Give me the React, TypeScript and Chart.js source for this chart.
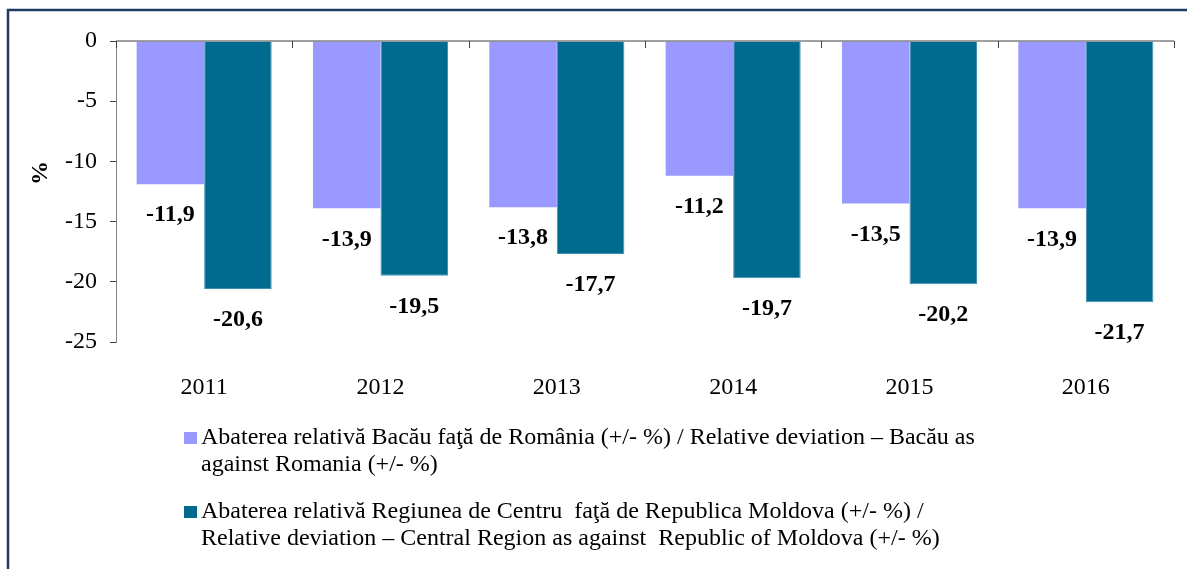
import React, { useEffect, useRef } from 'react';
import { Chart, registerables } from 'chart.js';

Chart.register(...registerables);

const categories = ['2011', '2012', '2013', '2014', '2015', '2016'];
const bacauVsRomania = [-11.9, -13.9, -13.8, -11.2, -13.5, -13.9];
const centruVsMoldova = [-20.6, -19.5, -17.7, -19.7, -20.2, -21.7];
const yTickValues = [0, -5, -10, -15, -20, -25];
const yAxisTitle = '%';
const seriesLabels = [
  [
    'Abaterea relativă Bacău faţă de România (+/- %) / Relative deviation – Bacău as',
    'against Romania (+/- %)',
  ],
  [
    'Abaterea relativă Regiunea de Centru  faţă de Republica Moldova (+/- %) /',
    'Relative deviation – Central Region as against  Republic of Moldova (+/- %)',
  ],
];
const seriesColors = ['#9999FF', '#006A8F'];

const FONT = '"Liberation Serif", "Times New Roman", serif';
const FS = 24;

const framePlugin = {
  id: 'frame',
  beforeDraw(chart: any) {
    const ctx = chart.ctx;
    ctx.save();
    ctx.fillStyle = '#ffffff';
    ctx.fillRect(0, 0, chart.width, chart.height);
    ctx.strokeStyle = '#1F3A63';
    ctx.lineWidth = 2.5;
    ctx.beginPath();
    ctx.moveTo(8, chart.height + 5);
    ctx.lineTo(8, 10);
    ctx.lineTo(chart.width + 5, 10);
    ctx.stroke();
    ctx.restore();
  },
};

const axisTitlePlugin = {
  id: 'yTitle',
  afterDraw(chart: any) {
    const ctx = chart.ctx;
    ctx.save();
    ctx.translate(41, 173);
    ctx.rotate(-Math.PI / 2);
    ctx.font = `bold ${FS}px ${FONT}`;
    ctx.fillStyle = '#000000';
    ctx.textAlign = 'center';
    ctx.textBaseline = 'middle';
    ctx.fillText(yAxisTitle, 0, 0);
    ctx.restore();
  },
};

const zeroLinePlugin = {
  id: 'zeroLine',
  afterDatasetsDraw(chart: any) {
    const ctx = chart.ctx;
    const x = chart.scales.x;
    const y = chart.scales.y;
    const area = chart.chartArea;
    const y0 = y.getPixelForValue(0);
    ctx.save();
    ctx.strokeStyle = '#808080';
    ctx.lineWidth = 1.5;
    ctx.beginPath();
    ctx.moveTo(area.left, y0);
    ctx.lineTo(area.right, y0);
    ctx.stroke();
    const step = x.getPixelForValue(1) - x.getPixelForValue(0);
    const first = x.getPixelForValue(0) - step / 2;
    ctx.strokeStyle = '#404040';
    ctx.lineWidth = 1;
    for (let i = 0; i <= categories.length; i++) {
      const px = Math.round(first + i * step) + 0.5;
      ctx.beginPath();
      ctx.moveTo(px, y0);
      ctx.lineTo(px, y0 + 7);
      ctx.stroke();
    }
    ctx.restore();
  },
};

const dataLabelPlugin = {
  id: 'dataLabels',
  afterDatasetsDraw(chart: any) {
    const ctx = chart.ctx;
    ctx.save();
    ctx.font = `bold ${FS}px ${FONT}`;
    ctx.fillStyle = '#000000';
    ctx.textAlign = 'center';
    ctx.textBaseline = 'middle';
    chart.data.datasets.forEach((ds: any, di: number) => {
      const meta = chart.getDatasetMeta(di);
      meta.data.forEach((bar: any, i: number) => {
        const v = ds.data[i] as number;
        const txt = v.toFixed(1).replace('.', ',');
        ctx.fillText(txt, bar.x, bar.y + 31);
      });
    });
    ctx.restore();
  },
};

const legendPlugin = {
  id: 'customLegend',
  afterDraw(chart: any) {
    const ctx = chart.ctx;
    ctx.save();
    ctx.font = `${FS}px ${FONT}`;
    ctx.textBaseline = 'middle';
    ctx.textAlign = 'left';
    const startsY = [438, 512];
    chart.data.datasets.forEach((ds: any, di: number) => {
      const lines: string[] = ds.legendLines;
      const y = startsY[di];
      ctx.fillStyle = ds.backgroundColor;
      ctx.fillRect(184, y - 6, 13, 12);
      ctx.fillStyle = '#000000';
      lines.forEach((line, li) => {
        ctx.fillText(line, 201, y + li * 27);
      });
    });
    ctx.restore();
  },
};

export default function App() {
  const canvasRef = useRef<HTMLCanvasElement | null>(null);

  useEffect(() => {
    if (!canvasRef.current) return;
    const chart = new Chart(canvasRef.current, {
      type: 'bar',
      data: {
        labels: categories,
        datasets: [
          {
            label: seriesLabels[0].join(' '),
            legendLines: seriesLabels[0],
            data: bacauVsRomania,
            backgroundColor: seriesColors[0],
            borderWidth: 0,
            categoryPercentage: 0.766,
            barPercentage: 1.0,
          } as any,
          {
            label: seriesLabels[1].join(' '),
            legendLines: seriesLabels[1],
            data: centruVsMoldova,
            backgroundColor: seriesColors[1],
            borderColor: '#3E8FB0',
            borderWidth: 1,
            categoryPercentage: 0.766,
            barPercentage: 1.0,
          } as any,
        ],
      },
      options: {
        responsive: false,
        animation: false,
        layout: { padding: { left: 0, right: 13, top: 41, bottom: 0 } },
        plugins: {
          legend: { display: false },
          tooltip: { enabled: false },
        },
        scales: {
          x: {
            position: 'bottom',
            grid: { display: false, drawTicks: false },
            border: { display: false },
            ticks: {
              color: '#000000',
              font: { family: FONT, size: FS },
              padding: 31,
              maxRotation: 0,
            },
            afterFit: (s: any) => {
              s.height = 227;
            },
          },
          y: {
            min: -25,
            max: 0,
            afterBuildTicks: (s: any) => {
              s.ticks = yTickValues.map((v) => ({ value: v }));
            },
            grid: {
              drawOnChartArea: false,
              drawTicks: true,
              tickLength: 6,
              color: '#404040',
            },
            border: { display: true, color: '#808080', width: 1 },
            ticks: {
              color: '#000000',
              font: { family: FONT, size: FS },
              padding: 13,
            },
            title: { display: false },
            afterFit: (s: any) => {
              s.width = 116;
            },
          },
        },
      },
      plugins: [framePlugin, zeroLinePlugin, dataLabelPlugin, legendPlugin, axisTitlePlugin],
    });
    return () => chart.destroy();
  }, []);

  return (
    <div style={{ position: 'fixed', left: 0, top: 0, width: 1187, height: 569, background: '#fff' }}>
      <canvas ref={canvasRef} width={1187} height={569} style={{ display: 'block' }} />
    </div>
  );
}
